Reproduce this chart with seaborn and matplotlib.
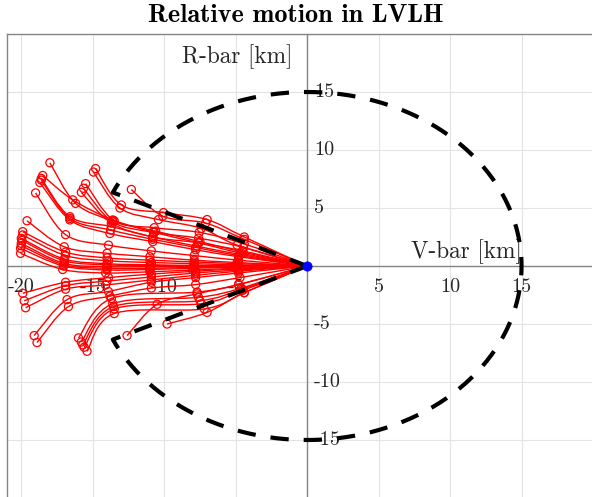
import numpy as np
import pandas as pd
import matplotlib
matplotlib.use("Agg")
import matplotlib.pyplot as plt
from matplotlib.path import Path
from matplotlib.patches import PathPatch
import seaborn as sns

# Chaser approach paths in the LVLH frame [km]; each path is the sequence of
# logged positions (V-bar, R-bar) ending at the target.
upper_x = [
    [-18.0, -16.2, -13.6, -10.6, -7.5, -4.5, 0.0],
    [-14.8, -13.0, -10.05, -7.0, -4.4, 0.0],
    [-14.95, -13.1, -10.4, -7.4, -4.9, 0.0],
    [-18.5, -16.4, -13.6, -10.7, -7.6, -4.6, 0.0],
    [-18.6, -16.6, -13.7, -10.8, -7.7, -4.7, 0.0],
    [-18.6, -16.6, -13.75, -10.8, -7.8, -4.8, 0.0],
    [-18.7, -16.6, -13.8, -10.8, -7.8, -4.8, 0.0],
    [-15.5, -13.5, -10.7, -7.55, -4.4, 0.0],
    [-15.65, -13.6, -10.75, -7.6, -4.45, 0.0],
    [-15.8, -13.7, -10.8, -7.6, -4.5, 0.0],
    [-19.0, -16.9, -13.9, -10.9, -7.9, -4.8, 0.0],
    [-12.3, -10.1, -7.1, -4.4, 0.0],
    [-19.6, -17.0, -14.0, -11.0, -7.9, -4.9, 0.0],
    [-19.9, -16.9, -14.0, -11.0, -7.9, -4.8, 0.0],
    [-19.9, -16.9, -13.9, -10.9, -7.9, -4.9, 0.0],
    [-20.0, -17.0, -14.0, -10.9, -7.9, -4.9, 0.0],
    [-19.95, -17.0, -14.0, -11.0, -7.9, -4.9, 0.0],
    [-20.0, -17.0, -14.0, -11.0, -7.9, -4.9, 0.0],
    [-20.0, -17.0, -14.0, -11.0, -8.0, -4.9, 0.0],
    [-20.05, -17.05, -14.0, -11.0, -8.0, -4.9, 0.0],
    [-20.05, -17.1, -14.1, -11.0, -8.0, -5.0, 0.0],
]
upper_y = [
    [8.9, 5.4, 3.9, 3.0, 2.1, 1.2, 0.0],
    [8.4, 5.26, 4.6, 4.0, 2.5, 0.0],
    [8.1, 5.0, 4.0, 3.25, 1.8, 0.0],
    [7.8, 5.7, 3.97, 2.9, 2.0, 1.1, 0.0],
    [7.55, 4.25, 3.4, 2.5, 1.7, 1.0, 0.0],
    [7.4, 4.1, 3.1, 2.3, 1.6, 0.9, 0.0],
    [7.2, 3.97, 2.8, 2.1, 1.4, 0.8, 0.0],
    [7.1, 3.9, 3.3, 2.9, 1.9, 0.0],
    [6.7, 3.8, 2.9, 2.4, 1.6, 0.0],
    [6.35, 3.7, 2.5, 2.0, 1.3, 0.0],
    [6.3, 2.7, 1.8, 1.3, 0.9, 0.5, 0.0],
    [6.6, 4.3, 3.7, 2.3, 0.0],
    [3.9, 1.66, 1.1, 0.8, 0.5, 0.3, 0.0],
    [2.96, 1.2, 0.7, 0.5, 0.35, 0.2, 0.0],
    [2.67, 0.9, 0.45, 0.3, 0.2, 0.1, 0.0],
    [2.38, 0.6, 0.2, 0.1, 0.05, 0.02, 0.0],
    [2.2, 0.45, 0.1, 0.05, 0.0, 0.0, 0.0],
    [1.95, 0.23, -0.06, -0.06, -0.05, -0.03, 0.0],
    [1.75, 0.1, -0.2, -0.2, -0.12, -0.06, 0.0],
    [1.52, 0.0, -0.34, -0.3, -0.2, -0.1, 0.0],
    [1.09, -0.3, -0.6, -0.5, -0.35, -0.2, 0.0],
]
lower_x = [
    [-19.9, -16.9, -13.9, -10.9, -7.8, -4.8, 0.0],
    [-19.8, -16.9, -14.0, -10.9, -7.8, -4.8, 0.0],
    [-19.7, -16.9, -14.1, -10.9, -7.8, -4.8, 0.0],
    [-19.1, -16.8, -13.9, -10.9, -7.8, -4.8, 0.0],
    [-18.9, -16.7, -13.8, -10.9, -7.8, -4.7, 0.0],
    [-16.0, -13.7, -7.7, -4.8, 0.0],
    [-15.8, -13.6, -7.6, -4.6, 0.0],
    [-15.7, -13.55, -7.5, -4.55, 0.0],
    [-15.6, -13.5, -7.4, -4.5, 0.0],
    [-15.4, -13.5, -7.2, -4.4, 0.0],
    [-12.6, -10.5, -7.7, -4.8, 0.0],
    [-9.8, -7.0, -4.4, 0.0],
]
lower_y = [
    [-2.35, -1.4, -1.0, -0.7, -0.45, -0.25, 0.0],
    [-3.0, -1.7, -1.3, -0.95, -0.6, -0.35, 0.0],
    [-3.6, -2.0, -1.64, -1.2, -0.8, -0.45, 0.0],
    [-6.0, -2.9, -2.2, -1.4, -1.0, -0.6, 0.0],
    [-6.6, -3.5, -2.6, -1.9, -1.6, -1.0, 0.0],
    [-6.2, -2.8, -2.25, -1.6, 0.0],
    [-6.55, -3.25, -2.7, -1.9, 0.0],
    [-6.8, -3.5, -3.0, -2.0, 0.0],
    [-7.0, -3.7, -3.25, -2.1, 0.0],
    [-7.35, -4.1, -3.7, -2.3, 0.0],
    [-6.0, -3.3, -2.4, -1.6, 0.0],
    [-5.0, -4.0, -2.3, 0.0],
]

# Target position and keep-out geometry (sphere radius, approach-cone half angle)
target_x, target_y = [0.0], [0.0]
keepout_radius = 15.0
cone_half_angle_deg = 25.0

x_ticks = [-20, -15, -10, -5, 5, 10, 15]
y_ticks = [-15, -10, -5, 5, 10, 15]

# Long-form table of every path
rows = []
for k, (xs, ys) in enumerate(zip(upper_x + lower_x, upper_y + lower_y)):
    for j, (xv, yv) in enumerate(zip(xs, ys)):
        rows.append({"path": k, "step": j, "vbar": xv, "rbar": yv})
paths = pd.DataFrame(rows)
paths["at_target"] = (paths["vbar"] == target_x[0]) & (paths["rbar"] == target_y[0])


def smooth_path(xs, ys):
    """Cubic Bezier path passing through the logged positions (Catmull-Rom tangents)."""
    p = np.column_stack([xs, ys]).astype(float)
    ext = np.vstack([p[0], p, p[-1]])
    verts = [p[0]]
    codes = [Path.MOVETO]
    for i in range(len(p) - 1):
        p0, p1, p2, p3 = ext[i], ext[i + 1], ext[i + 2], ext[i + 3]
        verts += [p1 + (p2 - p0) / 6.0, p2 - (p3 - p1) / 6.0, p2]
        codes += [Path.CURVE4] * 3
    return Path(verts, codes)


sns.set_theme(style="white")
plt.rcParams["font.family"] = ["cmr10", "DejaVu Serif"]
plt.rcParams["axes.unicode_minus"] = False

fig = plt.figure(figsize=(5.92, 4.97), dpi=100)
ax = fig.add_axes([7 / 592, -1 / 497, 586 / 592, 464 / 497])
ax.set_xlim(-21, 20)
ax.set_ylim(-20, 20)

# Grid
for g in range(-20, 21, 5):
    ax.axvline(g, color="#e3e3e3", lw=0.8, zorder=0)
    ax.axhline(g, color="#e3e3e3", lw=0.8, zorder=0)

# Axes crossing at the target, box on the left/top
axis_col = "#858585"
ax.spines["left"].set_position(("data", 0))
ax.spines["bottom"].set_position(("data", 0))
ax.spines["right"].set_position(("axes", 0))
for s in ax.spines.values():
    s.set_color(axis_col)
    s.set_linewidth(1.0)
ax.set_xticks(x_ticks)
ax.set_yticks(y_ticks)
ax.tick_params(axis="x", direction="in", length=4.5, width=0.8, color=axis_col,
               labelbottom=False, top=False)
ax.tick_params(axis="y", direction="out", length=4.5, width=0.8, color=axis_col,
               labelleft=False, right=False)

lab_kw = dict(fontsize=14.5, color="#262626", zorder=2.6,
              textcoords="offset pixels", annotation_clip=False)
for t in x_ticks:
    ax.annotate(f"{t}", xy=(t, 0), xytext=(0, -21), ha="center", va="center", **lab_kw)
for t in y_ticks:
    ax.annotate(f"{t}", xy=(0, t), xytext=(7, 0), ha="left", va="center", **lab_kw)

# Trajectories
for _, grp in paths.groupby("path"):
    ax.add_patch(PathPatch(smooth_path(grp["vbar"], grp["rbar"]), facecolor="none",
                           edgecolor="red", lw=1.0, zorder=3))
sns.scatterplot(data=paths[~paths["at_target"]], x="vbar", y="rbar", marker="o",
                s=34, facecolors="none", edgecolor="red", linewidth=0.9,
                ax=ax, zorder=3.2, legend=False)

# Keep-out sphere with the approach-cone opening
th = np.deg2rad(np.linspace(180 - cone_half_angle_deg, -(180 - cone_half_angle_deg), 400))
kx = np.concatenate([target_x, keepout_radius * np.cos(th), target_x])
ky = np.concatenate([target_y, keepout_radius * np.sin(th), target_y])
ax.plot(kx, ky, color="black", lw=3.0, dashes=(4.4, 3.6), dash_capstyle="butt",
        solid_joinstyle="miter", zorder=4)

# Target
sns.scatterplot(x=target_x, y=target_y, color="blue", s=45, edgecolor="blue",
                linewidth=0.5, ax=ax, zorder=5, legend=False)
ax.set_xlabel("")
ax.set_ylabel("")

ax.text(-1.0, 17.5, "R-bar [km]", ha="right", va="baseline", fontsize=16.8,
        color="#262626", zorder=2.6)
ax.text(15.0, 0.69, "V-bar [km]", ha="right", va="baseline", fontsize=16.8,
        color="#262626", zorder=2.6)

fig.text(0.5, 1 - 16 / 497, "Relative motion in LVLH", ha="center", va="center",
         fontsize=18.8, family=["cmb10", "DejaVu Serif"], color="black")

fig.savefig("out.png", dpi=100)
